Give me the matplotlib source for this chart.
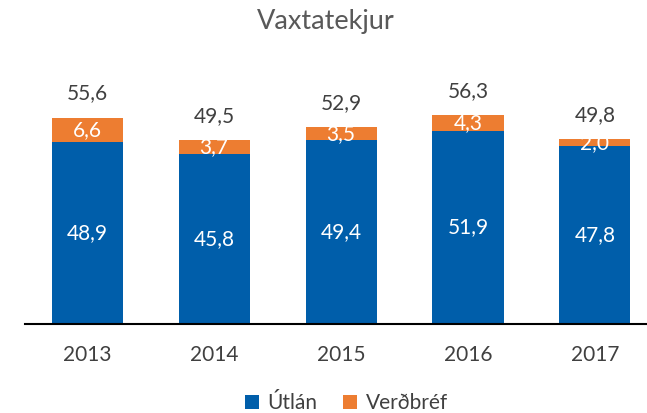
import matplotlib
matplotlib.use('Agg')
import matplotlib.pyplot as plt
import numpy as np

years = ['2013', '2014', '2015', '2016', '2017']
utlan = [48.9, 45.8, 49.4, 51.9, 47.8]
verdbref = [6.6, 3.7, 3.5, 4.3, 2.0]
totals = [55.6, 49.5, 52.9, 56.3, 49.8]

BLUE = '#005EAA'
ORANGE = '#ED7D31'
GREY = '#404040'

plt.rcParams['font.family'] = ['Lato', 'DejaVu Sans']


def fmt(v):
    return '{:.1f}'.format(v).replace('.', ',')


def main():
    fig = plt.figure(figsize=(6.47, 4.13), dpi=100)
    ax = fig.add_axes([25 / 647, 89 / 413, 622 / 647, 223 / 413])
    x = np.arange(len(years))
    w = 0.56

    b1 = ax.bar(x, utlan, w, color=BLUE, label='Útlán')
    b2 = ax.bar(x, verdbref, w, bottom=utlan, color=ORANGE, label='Verðbréf')

    for i in range(len(years)):
        ax.text(x[i], utlan[i] / 2, fmt(utlan[i]), ha='center', va='center',
                color='white', fontsize=15)
        ax.text(x[i], utlan[i] + verdbref[i] / 2, fmt(verdbref[i]), ha='center',
                va='center', color='white', fontsize=15)
        ax.annotate(fmt(totals[i]), (x[i], utlan[i] + verdbref[i]),
                    xytext=(0, 17.5), textcoords='offset points',
                    ha='center', va='center', color=GREY, fontsize=15,
                    annotation_clip=False)

    ax.set_xlim(-0.49, 4.41)
    ax.set_ylim(0, 60)
    ax.set_xticks(x)
    ax.set_xticklabels(years, fontsize=15, color=GREY)
    ax.tick_params(axis='x', length=0, pad=15)
    ax.set_yticks([])
    for s in ['top', 'left', 'right']:
        ax.spines[s].set_visible(False)
    ax.spines['bottom'].set_linewidth(1.5)
    ax.spines['bottom'].set_color('black')

    fig.text(0.503, 0.948, 'Vaxtatekjur', ha='center', va='center',
             fontsize=19.5, color='#595959')

    fig.legend(handles=[b1, b2], loc='center', bbox_to_anchor=(0.535, 0.024),
               ncol=2, frameon=False, fontsize=15, handlelength=0.7,
               handleheight=0.7, handletextpad=0.4, columnspacing=1.2,
               labelcolor=GREY)

    fig.savefig('out.png', dpi=100)


if __name__ == '__main__':
    main()
